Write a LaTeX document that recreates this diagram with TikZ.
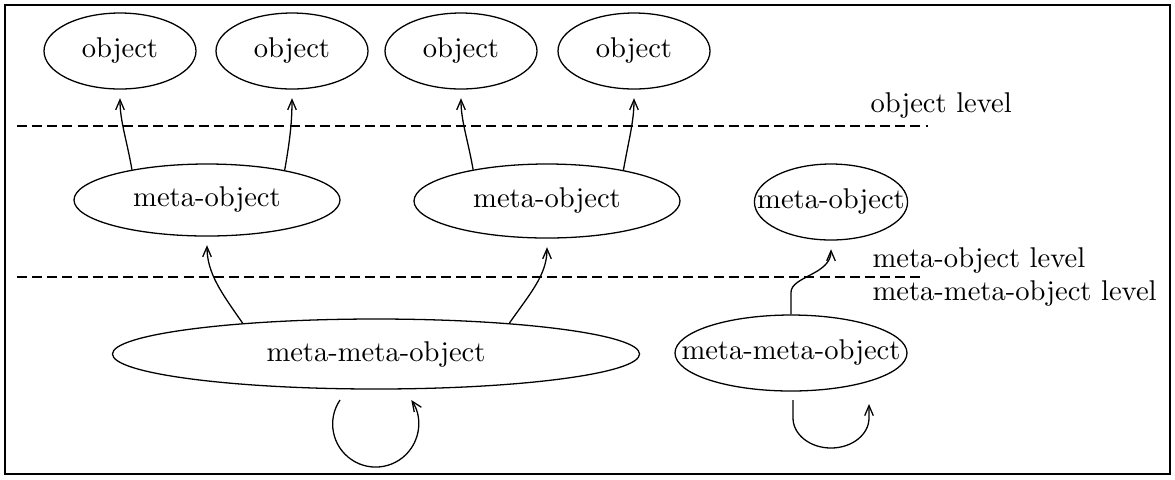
\documentclass[tikz,border=0pt]{standalone}
\usetikzlibrary{shapes.geometric,arrows.meta}

\tikzset{
  lvl/.style={ellipse, draw, line width=0.45pt, inner sep=0pt},
  link/.style={line width=0.45pt, -{Straight Barb[length=3.5pt,width=3pt]}, shorten >=3pt},
  sep/.style={line width=0.45pt, dash pattern=on 3.5pt off 1.8pt},
}

\begin{document}
\begin{tikzpicture}[x=0.35pt, y=0.35pt]
  \useasboundingbox (0,0) rectangle (1175,-479);
  \draw[line width=0.7pt] (5,-5) rectangle (1170,-474);

  \foreach \i/\x in {1/120,2/292,3/461,4/634} {
    \node[lvl, minimum width=53.2pt, minimum height=26.6pt] (o\i) at (\x,-51) {\makebox[0pt]{object}};
  }

  \node[lvl, minimum width=93.1pt, minimum height=25.2pt] (m1) at (207,-200) {\makebox[0pt]{meta-object}};
  \node[lvl, minimum width=93.1pt, minimum height=25.9pt] (m2) at (547,-201) {\makebox[0pt]{meta-object}};
  \node[lvl, minimum width=53.6pt, minimum height=26.6pt] (m3) at (831,-202) {\makebox[0pt]{meta-object}};

  \node[lvl, minimum width=184.5pt, minimum height=24.5pt] (mm1) at (376,-354) {\makebox[0pt]{meta-meta-object}};
  \node[lvl, minimum width=81.2pt, minimum height=26.6pt] (mm2) at (791,-353) {\makebox[0pt]{meta-meta-object}};

  % level borders
  \draw[sep] (17,-126) -- (928,-126);
  \draw[sep] (17,-277) -- (925,-277);
  \node[anchor=base west, inner sep=0pt] (t1) at (870,-112) {object level};
  \node[anchor=base west, inner sep=0pt] (t2) at (872,-267) {meta-object level};
  \node[anchor=base west, inner sep=0pt] (t3) at (872,-300) {meta-meta-object level};

  \draw[link] (m1.158) to[out=100, in=-90] (o1.south);
  \draw[link] (m1.21) to[out=80, in=-90] (o2.south);
  \draw[link] (m2.157) to[out=100, in=-90] (o3.south);
  \draw[link] (m2.22) to[out=80, in=-90] (o4.south);

  \draw[link] (mm1.167) to[out=125, in=-90] (m1.south);
  \draw[link] (mm1.13) to[out=55, in=-90] (m2.south);
  \draw[link] (mm2.north) -- ++(0,22) .. controls +(0,16) and +(0,-34) .. (m3.south);

  % self loops
  \coordinate (l1) at (340,-400);
  \coordinate (l2) at (793,-400);
  \draw[link, shorten >=0pt] (l1) arc[start angle=146, end angle=394, radius=43];
  \draw[link, shorten >=0pt] (l2) -- ++(0,-18) arc[start angle=180, end angle=360, x radius=38, y radius=30] -- ++(0,14);
\end{tikzpicture}
\end{document}
